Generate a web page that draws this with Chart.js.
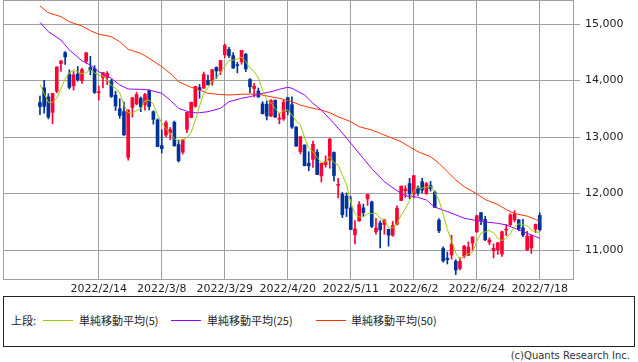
<!DOCTYPE html>
<html>
<head>
<meta charset="utf-8">
<script src="https://cdn.jsdelivr.net/npm/chart.js@4.4.1/dist/chart.umd.min.js"></script>
<style>
  body { margin: 0; background: #fff; }
  #wrap { position: relative; width: 638px; height: 362px; overflow: hidden; font-family: "Noto Sans CJK JP", "DejaVu Sans", sans-serif; color: #222; }
  #chart { position: absolute; left: 0; top: 0; }
  #legend { position: absolute; left: 3px; top: 296px; width: 632px; height: 51px; border: 1px solid #222; box-sizing: border-box; }
  .lg { position: absolute; top: 313px; font-size: 11px; line-height: 14px; white-space: nowrap; }
  .ln { position: absolute; top: 320px; width: 30px; height: 0; border-top: 1px solid; }
  #copy { position: absolute; right: 8px; top: 350px; font-family: "DejaVu Sans", sans-serif; font-size: 10px; color: #333; }
</style>
</head>
<body>
<div id="wrap">
  <canvas id="chart" width="638" height="296"></canvas>
  <div id="legend"></div>
  <span class="lg" style="left:11px">上段:</span>
  <div class="ln" style="left:43px;border-color:#99cc00"></div>
  <span class="lg" style="left:79px">単純移動平均(5)</span>
  <div class="ln" style="left:171px;border-color:#9900ff"></div>
  <span class="lg" style="left:207px">単純移動平均(25)</span>
  <div class="ln" style="left:316px;border-color:#ff3300"></div>
  <span class="lg" style="left:351px">単純移動平均(50)</span>
  <div id="copy">(c)Quants Research Inc.</div>
</div>
<script>
// trading day index 0 = 2022/1/25 ... 119 = 2022/7/18
const tickDays = [14, 29, 44, 59, 74, 89, 104, 119];
const tickLabels = ["2022/2/14", "2022/3/8", "2022/3/29", "2022/4/20", "2022/5/11", "2022/6/2", "2022/6/24", "2022/7/18"];
const priceTicks = [11000, 12000, 13000, 14000, 15000];

const opens = [
  13610,13871,13710,13436,13812,14300,14492,14114,13905,14118,
  13996,14340,14230,14210,13783,14050,14055,13990,13740,13500,
  13450,12640,13524,13586,13688,13574,13817,13447,13303,12847,
  13034,13074,13260,12866,12731,13136,13345,13541,13875,13865,
  14002,13987,14231,14165,14458,14551,14440,14268,14330,14465,
  14018,13859,13815,13587,13581,13371,13648,13316,13320,13696,
  13572,13176,12741,12859,12536,12607,12733,12311,12512,12588,
  12727,12144,11986,11954,11745,11270,11516,11746,11905,11851,
  11323,11476,11452,11367,11260,11454,11876,12046,12176,11989,
  12102,12209,11997,12142,12024,11528,11027,10855,10912,10800,
  10674,10893,10907,11121,11319,11661,11541,11139,10985,11007,
  10929,11353,11450,11530,11532,11393,11003,11037,11369,11612
];
const highs = [
  13726,14002,13765,13771,14242,14352,14510,14190,14161,14247,
  14219,14497,14430,14263,13904,14140,14160,14020,13810,13675,
  13620,13484,13699,13791,13709,13775,13836,13465,13322,13129,
  13286,13166,13284,12946,12960,13438,13620,13895,13930,14150,
  14098,14193,14243,14357,14646,14586,14494,14325,14534,14479,
  14036,13951,13867,13627,13637,13664,13658,13417,13653,13706,
  13710,13185,13007,12861,12740,12929,12776,12537,12667,12972,
  12739,12269,12022,12010,11944,11519,11855,11811,11985,11865,
  11560,11517,11545,11367,11506,11780,12131,12138,12269,12320,
  12135,12270,12197,12215,12045,11557,11055,10964,11263,10828,
  10868,11083,11142,11234,11608,11662,11597,11216,11107,11133,
  11336,11451,11645,11697,11544,11543,11332,11266,11461,11660
];
const lows = [
  13397,13420,13321,13236,13782,14161,14286,13851,13830,13989,
  13947,14305,14101,13770,13655,13870,13925,13700,13468,13332,
  13030,12588,13352,13567,13447,13477,13481,13227,12830,12717,
  13003,12953,12838,12555,12698,13076,13343,13530,13685,13860,
  13921,13917,14036,14105,14408,14406,14215,14136,14288,14157,
  13785,13711,13700,13407,13302,13360,13349,13232,13293,13392,
  13150,12833,12702,12490,12403,12463,12332,12202,12465,12447,
  12224,11924,11574,11591,11361,11108,11504,11597,11790,11396,
  11279,11035,11277,11068,11243,11443,11876,11932,11909,11925,
  11967,12010,11986,12042,11752,11308,10784,10752,10836,10565,
  10646,10860,10900,11005,11316,11448,11167,11095,10860,10921,
  10887,11252,11431,11497,11340,11237,10990,10938,11305,11334
];
const closes = [
  13539,13542,13353,13771,14240,14346,14418,13879,14098,14016,
  14194,14490,14186,13791,13791,14140,14124,13717,13548,13382,
  13037,13474,13695,13751,13532,13752,13538,13313,12831,12796,
  13256,13130,12844,12581,12949,13437,13615,13894,13838,14109,
  13923,14192,14169,14355,14620,14442,14221,14262,14533,14204,
  13889,13897,13711,13412,13372,13644,13351,13332,13620,13453,
  13175,12839,13005,12491,12489,12872,12335,12536,12564,12965,
  12318,12145,11623,11738,11364,11371,11805,11663,11985,11418,
  11389,11355,11535,11264,11435,11741,12131,12081,11994,12317,
  12013,12061,12175,12086,11754,11340,10809,10828,11099,10646,
  10798,11069,11053,11232,11608,11525,11182,11178,11029,11128,
  11322,11362,11621,11635,11373,11265,11248,11251,11452,11360
];

// moving averages
const ma5 = [
  13931,13772,13612,13612,13689,13850,14026,14131,14196,14151,
  14121,14135,14197,14135,14090,14080,14006,13913,13864,13782,
  13562,13432,13427,13468,13498,13641,13654,13577,13393,13246,
  13147,13065,12971,12921,12952,12988,13085,13295,13547,13779,
  13876,13991,14046,14150,14252,14356,14361,14380,14416,14332,
  14222,14157,14047,13823,13656,13607,13498,13422,13464,13480,
  13386,13284,13218,12993,12800,12739,12638,12545,12559,12654,
  12544,12506,12323,12158,11838,11648,11580,11588,11638,11648,
  11652,11562,11536,11392,11396,11466,11621,11730,11876,12053,
  12107,12093,12112,12130,12018,11883,11633,11363,11166,10944,
  10836,10888,10933,10960,11152,11297,11320,11345,11304,11208,
  11168,11204,11292,11414,11463,11451,11428,11354,11318,11315
];
const ma25Days = [0,2,5,7,10,12,14,17,19,21,24,26,29,31,33,36,38,40,43,45,48,50,52,55,57,59,60,63,65,67,70,72,74,77,79,82,85,87,90,92,94,97,99,101,104,106,109,111,113,116,118,119];
const ma25 = [15030,14864,14717,14540,14350,14274,14156,14040,13920,13850,13844,13832,13773,13655,13508,13430,13430,13448,13508,13625,13685,13713,13756,13802,13844,13880,13862,13743,13596,13478,13240,13070,12890,12620,12440,12210,12050,11960,11933,11885,11760,11680,11622,11563,11520,11496,11473,11443,11385,11296,11237,11208];
const ma50Days = [0,2,5,7,10,12,14,17,19,21,24,26,29,31,33,36,38,40,43,45,48,50,52,55,57,60,62,64,67,69,71,74,76,79,81,83,86,88,90,93,95,97,99,101,104,106,109,111,113,116,118,119];
const ma50 = [15319,15200,15130,15040,14965,14882,14818,14776,14687,14552,14481,14393,14245,14127,13979,13880,13832,13773,13752,13743,13756,13761,13756,13713,13685,13625,13566,13525,13478,13430,13359,13271,13182,13124,13065,13005,12917,12828,12740,12651,12535,12386,12239,12120,11994,11894,11805,11717,11646,11599,11540,11510];

const COLORS = {
  up: "#ff0033",
  down: "#003399",
  ma5: "#99cc00",
  ma25: "#9900ff",
  ma50: "#ff3300",
  grid: "#a0a0a0",
  text: "#222"
};

const candleColor = closes.map((c, i) => (c >= opens[i] ? COLORS.up : COLORS.down));

const bodies = closes.map((c, i) => ({ x: i, y: [opens[i], c] }));
const wicks = closes.map((c, i) => ({ x: i, y: [lows[i], highs[i]] }));

const frame = {
  id: "frame",
  afterDraw(chart) {
    const { ctx, chartArea: a } = chart;
    ctx.save();
    ctx.strokeStyle = COLORS.grid;
    ctx.lineWidth = 1;
    ctx.strokeRect(Math.round(a.left) + 0.5, Math.round(a.top) + 0.5, Math.round(a.right - a.left) - 1, Math.round(a.bottom - a.top) - 1);
    ctx.restore();
  }
};

new Chart(document.getElementById("chart"), {
  type: "bar",
  data: {
    datasets: [
      { type: "line", data: ma5.map((v, i) => ({ x: i, y: v })), borderColor: COLORS.ma5, borderWidth: 1, pointRadius: 0, order: 0 },
      { type: "line", data: ma25.map((v, i) => ({ x: ma25Days[i], y: v })), borderColor: COLORS.ma25, borderWidth: 1, pointRadius: 0, order: 0 },
      { type: "line", data: ma50.map((v, i) => ({ x: ma50Days[i], y: v })), borderColor: COLORS.ma50, borderWidth: 1, pointRadius: 0, order: 0 },
      { data: bodies, backgroundColor: candleColor, barThickness: 3, minBarLength: 1, grouped: false, order: 1 },
      { data: wicks, backgroundColor: candleColor, barThickness: 1, grouped: false, order: 2 }
    ]
  },
  options: {
    responsive: false,
    animation: false,
    layout: { autoPadding: false, padding: { left: 3, top: 0, right: 0, bottom: 0 } },
    plugins: { legend: { display: false }, tooltip: { enabled: false } },
    scales: {
      x: {
        type: "linear",
        min: -8.8,
        max: 127.15,
        offset: false,
        afterBuildTicks: s => { s.ticks = tickDays.map(v => ({ value: v })); },
        afterFit: s => { s.height = 16; s.paddingLeft = 0; s.paddingRight = 0; },
        grid: { color: COLORS.grid, drawTicks: false, offset: false },
        border: { display: false },
        ticks: {
          padding: 3,
          maxRotation: 0,
          autoSkip: false,
          color: COLORS.text,
          font: { family: "DejaVu Sans", size: 11 },
          callback: v => tickLabels[tickDays.indexOf(v)]
        }
      },
      y: {
        position: "right",
        min: 10469,
        max: 15425,
        afterBuildTicks: s => { s.ticks = priceTicks.map(v => ({ value: v })); },
        afterFit: s => { s.width = 64; s.paddingTop = 0; s.paddingBottom = 0; },
        grid: { color: COLORS.grid, tickLength: 6 },
        border: { display: false },
        ticks: {
          padding: 5,
          color: COLORS.text,
          font: { family: "DejaVu Sans", size: 11 },
          callback: v => v.toLocaleString("en-US")
        }
      }
    }
  },
  plugins: [frame]
});
</script>
</body>
</html>
